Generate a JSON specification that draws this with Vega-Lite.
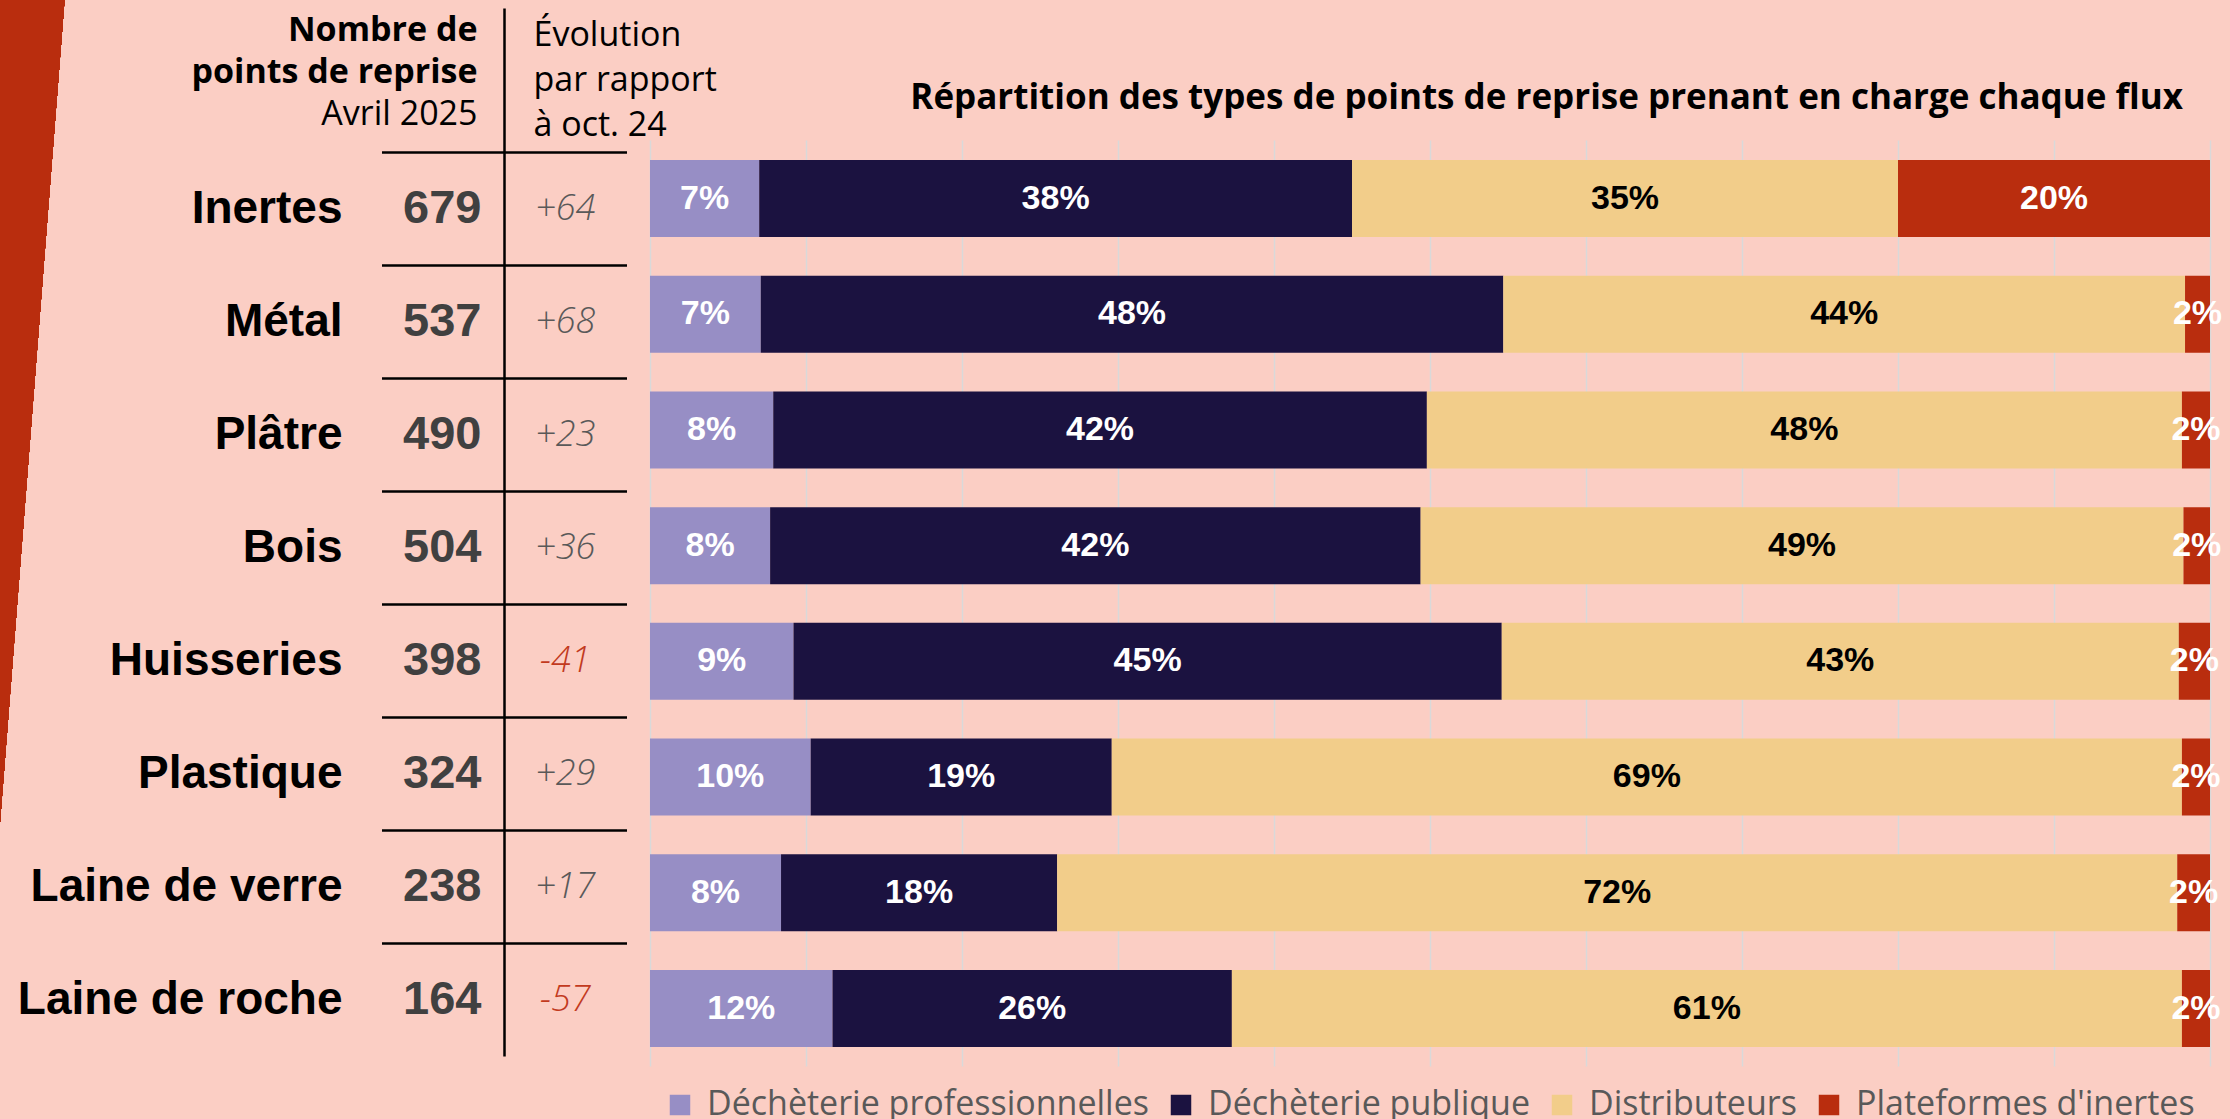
{
  "$schema": "https://vega.github.io/schema/vega-lite/v6.json",
  "background": "#FBCEC4",
  "padding": 0,
  "config": {
    "view": {"stroke": null},
    "legend": {"layout": {"bottom": {"anchor": "middle"}}},
    "locale": {"number": {"decimal": ",", "thousands": " ", "grouping": [3], "currency": ["", " €"], "minus": "-", "percent": "%"}}
  },
  "datasets": {
    "tableau": [
      {"flux": "Inertes", "points": 679, "evolution": 64},
      {"flux": "Métal", "points": 537, "evolution": 68},
      {"flux": "Plâtre", "points": 490, "evolution": 23},
      {"flux": "Bois", "points": 504, "evolution": 36},
      {"flux": "Huisseries", "points": 398, "evolution": -41},
      {"flux": "Plastique", "points": 324, "evolution": 29},
      {"flux": "Laine de verre", "points": 238, "evolution": 17},
      {"flux": "Laine de roche", "points": 164, "evolution": -57}
    ],
    "parts": [
      {"flux": "Inertes", "type": "Déchèterie professionnelles", "ordre": 1, "part": 0.070},
      {"flux": "Inertes", "type": "Déchèterie publique", "ordre": 2, "part": 0.380},
      {"flux": "Inertes", "type": "Distributeurs", "ordre": 3, "part": 0.350},
      {"flux": "Inertes", "type": "Plateformes d'inertes", "ordre": 4, "part": 0.200},
      {"flux": "Métal", "type": "Déchèterie professionnelles", "ordre": 1, "part": 0.071},
      {"flux": "Métal", "type": "Déchèterie publique", "ordre": 2, "part": 0.476},
      {"flux": "Métal", "type": "Distributeurs", "ordre": 3, "part": 0.437},
      {"flux": "Métal", "type": "Plateformes d'inertes", "ordre": 4, "part": 0.016},
      {"flux": "Plâtre", "type": "Déchèterie professionnelles", "ordre": 1, "part": 0.079},
      {"flux": "Plâtre", "type": "Déchèterie publique", "ordre": 2, "part": 0.419},
      {"flux": "Plâtre", "type": "Distributeurs", "ordre": 3, "part": 0.484},
      {"flux": "Plâtre", "type": "Plateformes d'inertes", "ordre": 4, "part": 0.018},
      {"flux": "Bois", "type": "Déchèterie professionnelles", "ordre": 1, "part": 0.077},
      {"flux": "Bois", "type": "Déchèterie publique", "ordre": 2, "part": 0.417},
      {"flux": "Bois", "type": "Distributeurs", "ordre": 3, "part": 0.489},
      {"flux": "Bois", "type": "Plateformes d'inertes", "ordre": 4, "part": 0.017},
      {"flux": "Huisseries", "type": "Déchèterie professionnelles", "ordre": 1, "part": 0.092},
      {"flux": "Huisseries", "type": "Déchèterie publique", "ordre": 2, "part": 0.454},
      {"flux": "Huisseries", "type": "Distributeurs", "ordre": 3, "part": 0.434},
      {"flux": "Huisseries", "type": "Plateformes d'inertes", "ordre": 4, "part": 0.020},
      {"flux": "Plastique", "type": "Déchèterie professionnelles", "ordre": 1, "part": 0.103},
      {"flux": "Plastique", "type": "Déchèterie publique", "ordre": 2, "part": 0.193},
      {"flux": "Plastique", "type": "Distributeurs", "ordre": 3, "part": 0.686},
      {"flux": "Plastique", "type": "Plateformes d'inertes", "ordre": 4, "part": 0.018},
      {"flux": "Laine de verre", "type": "Déchèterie professionnelles", "ordre": 1, "part": 0.084},
      {"flux": "Laine de verre", "type": "Déchèterie publique", "ordre": 2, "part": 0.177},
      {"flux": "Laine de verre", "type": "Distributeurs", "ordre": 3, "part": 0.718},
      {"flux": "Laine de verre", "type": "Plateformes d'inertes", "ordre": 4, "part": 0.021},
      {"flux": "Laine de roche", "type": "Déchèterie professionnelles", "ordre": 1, "part": 0.117},
      {"flux": "Laine de roche", "type": "Déchèterie publique", "ordre": 2, "part": 0.256},
      {"flux": "Laine de roche", "type": "Distributeurs", "ordre": 3, "part": 0.609},
      {"flux": "Laine de roche", "type": "Plateformes d'inertes", "ordre": 4, "part": 0.018}
    ]
  },
  "hconcat": [
    {
      "width": 381,
      "height": 1119,
      "data": {"values": [{"decor": "bande"}]},
      "mark": {
        "type": "rect",
        "fill": {
          "gradient": "linear",
          "x1": 0, "y1": 0, "x2": 0.74, "y2": 0.1706,
          "stops": [
            {"offset": 0, "color": "#B92D0E"},
            {"offset": 0.2189, "color": "#B92D0E"},
            {"offset": 0.219, "color": "#FBCEC4"},
            {"offset": 1, "color": "#FBCEC4"}
          ]
        }
      },
      "encoding": {}
    },
    {
      "width": 122.5,
      "height": 1056,
      "data": {"name": "tableau"},
      "title": {
        "text": ["Nombre de", "points de reprise"],
        "subtitle": "Avril 2025",
        "orient": "top",
        "anchor": "end",
        "frame": "group",
        "font": "Open Sans",
        "fontSize": 34,
        "fontWeight": "bold",
        "color": "#000000",
        "lineHeight": 42,
        "subtitleFont": "Open Sans",
        "subtitleFontSize": 34,
        "subtitleFontWeight": "normal",
        "subtitleColor": "#000000",
        "subtitlePadding": 8,
        "offset": -132,
        "dx": -26
      },
      "mark": {"type": "text", "font": "Liberation Sans", "fontSize": 47, "fontWeight": "bold", "color": "#404040", "baseline": "middle"},
      "encoding": {
        "y": {
          "field": "flux", "type": "nominal", "sort": null,
          "scale": {"type": "band", "paddingInner": 0, "paddingOuter": 0.6726, "align": 1},
          "axis": {"orient": "left", "title": null, "domain": false, "ticks": false, "tickSize": 0, "grid": false,
                   "labelPadding": 39, "labelFont": "Liberation Sans", "labelFontSize": 46, "labelFontWeight": "bold",
                   "labelColor": "#000000", "labelLimit": 0}
        },
        "text": {"field": "points", "type": "quantitative"}
      }
    },
    {
      "width": 122.5,
      "height": 1056,
      "data": {"name": "tableau"},
      "title": {
        "text": ["Évolution", "par rapport", "à oct. 24"],
        "orient": "top",
        "anchor": "start",
        "frame": "group",
        "font": "Open Sans",
        "fontSize": 34,
        "fontWeight": "normal",
        "color": "#000000",
        "lineHeight": 45,
        "offset": -143,
        "dx": 29.5
      },
      "mark": {"type": "text", "font": "Open Sans", "fontSize": 36, "fontStyle": "italic", "fontWeight": 300, "baseline": "middle"},
      "encoding": {
        "y": {
          "field": "flux", "type": "nominal", "sort": null,
          "scale": {"type": "band", "paddingInner": 0, "paddingOuter": 0.6726, "align": 1},
          "axis": {"orient": "left", "title": null, "labels": false,
                   "domain": true, "domainColor": "#000000", "domainWidth": 2.5, "domainDash": [0, 8, 2000],
                   "ticks": true, "tickSize": 122.5, "tickColor": "#000000", "tickWidth": 2.5, "bandPosition": 0,
                   "grid": true, "gridColor": "#000000", "gridWidth": 2.5}
        },
        "text": {"field": "evolution", "type": "quantitative", "format": "+d"},
        "color": {"condition": {"test": "datum.evolution < 0", "value": "#C23A1E"}, "value": "#595959"}
      }
    },
    {
      "width": 1604,
      "height": 1066,
      "data": {"name": "parts"},
      "title": {
        "text": "Répartition des types de points de reprise prenant en charge chaque flux",
        "orient": "top",
        "anchor": "end",
        "frame": "group",
        "font": "Open Sans",
        "fontSize": 35,
        "fontWeight": "bold",
        "color": "#000000",
        "offset": -116,
        "dx": -48
      },
      "encoding": {
        "y": {
          "field": "flux", "type": "nominal", "sort": null, "axis": null,
          "scale": {"paddingInner": 0.3346, "paddingOuter": 0.7735, "align": 0.8939}
        },
        "order": {"field": "ordre", "type": "quantitative"}
      },
      "layer": [
        {
          "mark": {"type": "bar"},
          "encoding": {
            "x": {
              "field": "part", "type": "quantitative", "stack": "zero",
              "scale": {"domain": [-0.01474, 1.01346], "nice": false, "zero": false},
              "axis": {"orient": "bottom", "title": null, "values": [0, 0.1, 0.2, 0.3, 0.4, 0.5, 0.6, 0.7, 0.8, 0.9, 1],
                       "domain": false, "labels": false, "ticks": false,
                       "grid": true, "gridColor": "#D9D9D9", "gridWidth": 1.5, "gridDash": [926, 2000]}
            },
            "color": {
              "field": "type", "type": "nominal",
              "scale": {
                "domain": ["Déchèterie professionnelles", "Déchèterie publique", "Distributeurs", "Plateformes d'inertes"],
                "range": ["#978EC5", "#1B1240", "#F2CD8A", "#B92D0E"]
              },
              "legend": {
                "orient": "bottom", "direction": "horizontal", "title": null,
                "symbolType": "square", "symbolSize": 420, "symbolStrokeWidth": 0,
                "labelFont": "Open Sans", "labelFontSize": 34, "labelColor": "#595959", "labelLimit": 0,
                "columnPadding": 15, "labelOffset": 10, "offset": 22
              }
            }
          }
        },
        {
          "mark": {"type": "text", "font": "Liberation Sans", "fontSize": 34, "fontWeight": "bold", "baseline": "middle"},
          "encoding": {
            "x": {"field": "part", "type": "quantitative", "stack": "zero", "bandPosition": 0.5,
                  "axis": {"orient": "bottom", "title": null, "values": [0, 0.1, 0.2, 0.3, 0.4, 0.5, 0.6, 0.7, 0.8, 0.9, 1],
                           "domain": false, "labels": false, "ticks": false,
                           "grid": true, "gridColor": "#D9D9D9", "gridWidth": 1.5, "gridDash": [926, 2000]}},
            "detail": {"field": "type"},
            "text": {"field": "part", "type": "quantitative", "format": ".0%"},
            "color": {"condition": {"test": "datum.type === 'Distributeurs'", "value": "#000000"}, "value": "#FFFFFF"}
          }
        }
      ]
    }
  ],
  "resolve": {"legend": {"color": "independent"}},
  "spacing": 0,
  "bounds": "flush"
}
